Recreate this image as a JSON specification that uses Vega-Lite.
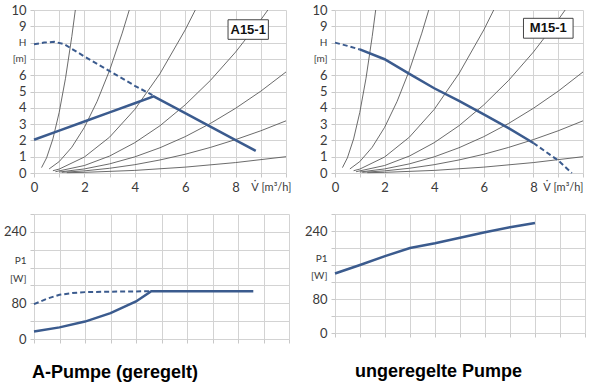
{
  "$schema": "https://vega.github.io/schema/vega-lite/v6.json",
  "background": "white",
  "padding": {"left": 3, "top": 4, "right": 2, "bottom": 2},
  "config": {
    "view": {"stroke": null},
    "axis": {
      "gridColor": "#d3d3d3",
      "tickColor": "#c8c8c8",
      "domain": false,
      "labelFont": "Lato",
      "labelFontSize": 13,
      "labelColor": "#3a3a3a",
      "tickSize": 4,
      "labelPadding": 4,
      "labelOverlap": false,
      "labelBound": false,
      "labelFlush": false
    }
  },
  "datasets": {
    "sys": [
      {"c": 1, "x": 0.3, "y": 0.33}, {"c": 1, "x": 0.5, "y": 0.93}, {"c": 1, "x": 0.75, "y": 2.09}, {"c": 1, "x": 1.0, "y": 3.72}, {"c": 1, "x": 1.25, "y": 5.81}, {"c": 1, "x": 1.5, "y": 8.37}, {"c": 1, "x": 1.64, "y": 10},
      {"c": 2, "x": 0.6, "y": 0.25}, {"c": 2, "x": 1.0, "y": 0.7}, {"c": 2, "x": 1.5, "y": 1.58}, {"c": 2, "x": 2.0, "y": 2.8}, {"c": 2, "x": 2.5, "y": 4.38}, {"c": 2, "x": 3.0, "y": 6.3}, {"c": 2, "x": 3.5, "y": 8.58}, {"c": 2, "x": 3.78, "y": 10},
      {"c": 3, "x": 0.75, "y": 0.14}, {"c": 3, "x": 1, "y": 0.24}, {"c": 3, "x": 2, "y": 0.98}, {"c": 3, "x": 3, "y": 2.2}, {"c": 3, "x": 4, "y": 3.9}, {"c": 3, "x": 5, "y": 6.1}, {"c": 3, "x": 6, "y": 8.78}, {"c": 3, "x": 6.4, "y": 10},
      {"c": 4, "x": 0.85, "y": 0.08}, {"c": 4, "x": 2, "y": 0.46}, {"c": 4, "x": 3, "y": 1.04}, {"c": 4, "x": 4, "y": 1.86}, {"c": 4, "x": 5, "y": 2.9}, {"c": 4, "x": 6, "y": 4.18}, {"c": 4, "x": 7, "y": 5.68}, {"c": 4, "x": 8, "y": 7.42}, {"c": 4, "x": 9, "y": 9.4}, {"c": 4, "x": 9.28, "y": 10},
      {"c": 5, "x": 1.0, "y": 0.06}, {"c": 5, "x": 2, "y": 0.25}, {"c": 5, "x": 3, "y": 0.56}, {"c": 5, "x": 4, "y": 0.99}, {"c": 5, "x": 5, "y": 1.55}, {"c": 5, "x": 6, "y": 2.23}, {"c": 5, "x": 7, "y": 3.04}, {"c": 5, "x": 8, "y": 3.97}, {"c": 5, "x": 9, "y": 5.02}, {"c": 5, "x": 10, "y": 6.2},
      {"c": 6, "x": 1.1, "y": 0.04}, {"c": 6, "x": 2, "y": 0.13}, {"c": 6, "x": 3, "y": 0.29}, {"c": 6, "x": 4, "y": 0.51}, {"c": 6, "x": 5, "y": 0.8}, {"c": 6, "x": 6, "y": 1.15}, {"c": 6, "x": 7, "y": 1.57}, {"c": 6, "x": 8, "y": 2.05}, {"c": 6, "x": 9, "y": 2.59}, {"c": 6, "x": 10, "y": 3.2},
      {"c": 7, "x": 1.3, "y": 0.02}, {"c": 7, "x": 2, "y": 0.04}, {"c": 7, "x": 4, "y": 0.16}, {"c": 7, "x": 6, "y": 0.36}, {"c": 7, "x": 8, "y": 0.64}, {"c": 7, "x": 10, "y": 1.0}
    ],
    "tl": [
      {"seg": "a", "style": "solid", "x": 0, "y": 2.04}, {"seg": "a", "style": "solid", "x": 1, "y": 2.6}, {"seg": "a", "style": "solid", "x": 2, "y": 3.16}, {"seg": "a", "style": "solid", "x": 3, "y": 3.72}, {"seg": "a", "style": "solid", "x": 4, "y": 4.28}, {"seg": "a", "style": "solid", "x": 4.75, "y": 4.7}, {"seg": "a", "style": "solid", "x": 6, "y": 3.67}, {"seg": "a", "style": "solid", "x": 7, "y": 2.84}, {"seg": "a", "style": "solid", "x": 8, "y": 2.02}, {"seg": "a", "style": "solid", "x": 8.8, "y": 1.36},
      {"seg": "b", "style": "dashed", "x": 0, "y": 7.9}, {"seg": "b", "style": "dashed", "x": 0.4, "y": 8.0}, {"seg": "b", "style": "dashed", "x": 0.8, "y": 8.05}, {"seg": "b", "style": "dashed", "x": 1.2, "y": 7.9}, {"seg": "b", "style": "dashed", "x": 2, "y": 7.15}, {"seg": "b", "style": "dashed", "x": 3, "y": 6.25}, {"seg": "b", "style": "dashed", "x": 4, "y": 5.35}, {"seg": "b", "style": "dashed", "x": 4.7, "y": 4.78}
    ],
    "tr": [
      {"seg": "a", "style": "dashed", "x": 0, "y": 8.0}, {"seg": "a", "style": "dashed", "x": 0.5, "y": 7.8}, {"seg": "a", "style": "dashed", "x": 1, "y": 7.58},
      {"seg": "b", "style": "solid", "x": 1, "y": 7.58}, {"seg": "b", "style": "solid", "x": 2, "y": 6.98}, {"seg": "b", "style": "solid", "x": 3, "y": 6.08}, {"seg": "b", "style": "solid", "x": 4, "y": 5.2}, {"seg": "b", "style": "solid", "x": 5, "y": 4.42}, {"seg": "b", "style": "solid", "x": 6, "y": 3.6}, {"seg": "b", "style": "solid", "x": 7, "y": 2.75}, {"seg": "b", "style": "solid", "x": 8, "y": 1.84},
      {"seg": "c", "style": "dashed", "x": 8, "y": 1.84}, {"seg": "c", "style": "dashed", "x": 9, "y": 0.77}, {"seg": "c", "style": "dashed", "x": 9.55, "y": 0}
    ],
    "bl": [
      {"seg": "a", "style": "solid", "x": 0, "y": 17}, {"seg": "a", "style": "solid", "x": 1, "y": 26}, {"seg": "a", "style": "solid", "x": 2, "y": 39}, {"seg": "a", "style": "solid", "x": 3, "y": 58}, {"seg": "a", "style": "solid", "x": 4, "y": 84}, {"seg": "a", "style": "solid", "x": 4.6, "y": 107}, {"seg": "a", "style": "solid", "x": 6, "y": 107}, {"seg": "a", "style": "solid", "x": 8, "y": 107}, {"seg": "a", "style": "solid", "x": 8.6, "y": 107},
      {"seg": "b", "style": "dashed", "x": 0, "y": 78}, {"seg": "b", "style": "dashed", "x": 0.5, "y": 90}, {"seg": "b", "style": "dashed", "x": 1, "y": 99}, {"seg": "b", "style": "dashed", "x": 1.5, "y": 103}, {"seg": "b", "style": "dashed", "x": 2, "y": 105}, {"seg": "b", "style": "dashed", "x": 3, "y": 106}, {"seg": "b", "style": "dashed", "x": 4.6, "y": 107}
    ],
    "br": [
      {"seg": "a", "style": "solid", "x": 0, "y": 140}, {"seg": "a", "style": "solid", "x": 1, "y": 160}, {"seg": "a", "style": "solid", "x": 2, "y": 181}, {"seg": "a", "style": "solid", "x": 3, "y": 200}, {"seg": "a", "style": "solid", "x": 4, "y": 211}, {"seg": "a", "style": "solid", "x": 5, "y": 224}, {"seg": "a", "style": "solid", "x": 6, "y": 237}, {"seg": "a", "style": "solid", "x": 7, "y": 249}, {"seg": "a", "style": "solid", "x": 8, "y": 259}
    ],
    "boxes": [
      {"label": "A15-1", "x": 7.7, "x2": 9.3, "y": 8.2, "y2": 9.4},
      {"label": "M15-1", "x": 7.6, "x2": 9.6, "y": 8.27, "y2": 9.49}
    ],
    "boxtext": [
      {"label": "A15-1", "x": 8.5, "y": 8.8},
      {"label": "M15-1", "x": 8.6, "y": 8.88}
    ]
  },
  "columns": 2,
  "spacing": {"row": 14, "column": 13},
  "concat": [
    {
      "width": 252,
      "height": 163,
      "encoding": {
        "x": {"field": "x", "type": "quantitative", "title": null, "scale": {"domain": [0, 10], "nice": false},
          "axis": {"values": [0, 1, 2, 3, 4, 5, 6, 7, 8, 9, 10], "grid": true,
            "labelExpr": "datum.value == 10 ? 'V\u0307 [m³/h]' : (datum.value % 2 == 0 ? datum.label : '')",
            "labelAlign": {"condition": {"test": "datum.value == 10", "value": "right"}, "value": "center"},
            "labelFontSize": {"condition": {"test": "datum.value == 10", "value": 11}, "value": 13},
            "labelOffset": {"condition": {"test": "datum.value == 10", "value": 5}, "value": 0}}},
        "y": {"field": "y", "type": "quantitative", "title": null, "scale": {"domain": [0, 10], "nice": false},
          "axis": {"values": [0, 1, 2, 3, 4, 5, 6, 7, 8, 9, 10], "grid": true,
            "labelExpr": "datum.value == 8 ? 'H' : datum.value == 7 ? '[m]' : datum.label",
            "labelFontSize": {"condition": {"test": "datum.value == 8 || datum.value == 7", "value": 10}, "value": 13}}}
      },
      "layer": [
        {"data": {"name": "sys"}, "mark": {"type": "line", "color": "#5a5a5a", "strokeWidth": 0.9}, "encoding": {"detail": {"field": "c"}}},
        {"data": {"name": "tl"}, "transform": [{"filter": "datum.style == 'dashed'"}], "mark": {"type": "line", "color": "#3b5b8e", "strokeWidth": 2, "strokeDash": [5, 3]}, "encoding": {"detail": {"field": "seg"}}},
        {"data": {"name": "tl"}, "transform": [{"filter": "datum.style == 'solid'"}], "mark": {"type": "line", "color": "#3b5b8e", "strokeWidth": 2.5}, "encoding": {"detail": {"field": "seg"}}},
        {"data": {"name": "boxes"}, "transform": [{"filter": "datum.label == 'A15-1'"}], "mark": {"type": "rect", "fill": "white", "stroke": "#444444", "strokeWidth": 1}, "encoding": {"x2": {"field": "x2"}, "y2": {"field": "y2"}}},
        {"data": {"name": "boxtext"}, "transform": [{"filter": "datum.label == 'A15-1'"}], "mark": {"type": "text", "font": "Liberation Sans", "fontWeight": "bold", "fontSize": 13, "color": "#111111"}, "encoding": {"text": {"field": "label"}}}
      ]
    },
    {
      "width": 248,
      "height": 163,
      "encoding": {
        "x": {"field": "x", "type": "quantitative", "title": null, "scale": {"domain": [0, 10], "nice": false},
          "axis": {"values": [0, 1, 2, 3, 4, 5, 6, 7, 8, 9, 10], "grid": true,
            "labelExpr": "datum.value == 10 ? 'V\u0307 [m³/h]' : (datum.value % 2 == 0 ? datum.label : '')",
            "labelAlign": {"condition": {"test": "datum.value == 10", "value": "right"}, "value": "center"},
            "labelFontSize": {"condition": {"test": "datum.value == 10", "value": 11}, "value": 13},
            "labelOffset": {"condition": {"test": "datum.value == 10", "value": 0}, "value": 0}}},
        "y": {"field": "y", "type": "quantitative", "title": null, "scale": {"domain": [0, 10], "nice": false},
          "axis": {"values": [0, 1, 2, 3, 4, 5, 6, 7, 8, 9, 10], "grid": true,
            "labelExpr": "datum.value == 8 ? 'H' : datum.value == 7 ? '[m]' : datum.label",
            "labelFontSize": {"condition": {"test": "datum.value == 8 || datum.value == 7", "value": 10}, "value": 13}}}
      },
      "layer": [
        {"data": {"name": "sys"}, "mark": {"type": "line", "color": "#5a5a5a", "strokeWidth": 0.9}, "encoding": {"detail": {"field": "c"}}},
        {"data": {"name": "tr"}, "transform": [{"filter": "datum.style == 'dashed'"}], "mark": {"type": "line", "color": "#3b5b8e", "strokeWidth": 2, "strokeDash": [5, 3]}, "encoding": {"detail": {"field": "seg"}}},
        {"data": {"name": "tr"}, "transform": [{"filter": "datum.style == 'solid'"}], "mark": {"type": "line", "color": "#3b5b8e", "strokeWidth": 2.5}, "encoding": {"detail": {"field": "seg"}}},
        {"data": {"name": "boxes"}, "transform": [{"filter": "datum.label == 'M15-1'"}], "mark": {"type": "rect", "fill": "white", "stroke": "#444444", "strokeWidth": 1}, "encoding": {"x2": {"field": "x2"}, "y2": {"field": "y2"}}},
        {"data": {"name": "boxtext"}, "transform": [{"filter": "datum.label == 'M15-1'"}], "mark": {"type": "text", "font": "Liberation Sans", "fontWeight": "bold", "fontSize": 13, "color": "#111111"}, "encoding": {"text": {"field": "label"}}}
      ]
    },
    {
      "width": 255,
      "height": 125,
      "title": {"text": "A-Pumpe (geregelt)", "orient": "bottom", "anchor": "start", "frame": "group", "font": "Liberation Sans", "fontWeight": "bold", "fontSize": 18, "color": "#000000", "offset": 18, "dx": -2},
      "encoding": {
        "x": {"field": "x", "type": "quantitative", "title": null, "scale": {"domain": [0, 10], "nice": false},
          "axis": {"values": [0, 1, 2, 3, 4, 5, 6, 7, 8, 9, 10], "grid": true, "labels": false}},
        "y": {"field": "y", "type": "quantitative", "title": null, "scale": {"domain": [0, 280], "nice": false},
          "axis": {"values": [0, 40, 80, 120, 160, 200, 240, 280], "grid": true,
            "labelExpr": "datum.value == 160 ? 'P1' : datum.value == 120 ? '[W]' : (datum.value == 0 || datum.value == 80 || datum.value == 240) ? datum.label : ''",
            "labelFontSize": {"condition": {"test": "datum.value == 160 || datum.value == 120", "value": 10}, "value": 13},
            "labelOffset": {"condition": {"test": "datum.value == 160 || datum.value == 120", "value": -7}, "value": 0}}}
      },
      "layer": [
        {"data": {"name": "bl"}, "transform": [{"filter": "datum.style == 'dashed'"}], "mark": {"type": "line", "color": "#3b5b8e", "strokeWidth": 2, "strokeDash": [5, 3]}, "encoding": {"detail": {"field": "seg"}}},
        {"data": {"name": "bl"}, "transform": [{"filter": "datum.style == 'solid'"}], "mark": {"type": "line", "color": "#3b5b8e", "strokeWidth": 2.5}, "encoding": {"detail": {"field": "seg"}}}
      ]
    },
    {
      "width": 250,
      "height": 119,
      "title": {"text": "ungeregelte Pumpe", "orient": "bottom", "anchor": "start", "frame": "group", "font": "Liberation Sans", "fontWeight": "bold", "fontSize": 18, "color": "#000000", "offset": 23, "dx": 20},
      "encoding": {
        "x": {"field": "x", "type": "quantitative", "title": null, "scale": {"domain": [0, 10], "nice": false},
          "axis": {"values": [0, 1, 2, 3, 4, 5, 6, 7, 8, 9, 10], "grid": true, "labels": false}},
        "y": {"field": "y", "type": "quantitative", "title": null, "scale": {"domain": [0, 280], "nice": false},
          "axis": {"values": [0, 40, 80, 120, 160, 200, 240, 280], "grid": true,
            "labelExpr": "datum.value == 160 ? 'P1' : datum.value == 120 ? '[W]' : (datum.value == 0 || datum.value == 80 || datum.value == 240) ? datum.label : ''",
            "labelFontSize": {"condition": {"test": "datum.value == 160 || datum.value == 120", "value": 10}, "value": 13},
            "labelOffset": {"condition": {"test": "datum.value == 160 || datum.value == 120", "value": -7}, "value": 0}}}
      },
      "layer": [
        {"data": {"name": "br"}, "mark": {"type": "line", "color": "#3b5b8e", "strokeWidth": 2.5}, "encoding": {"detail": {"field": "seg"}}}
      ]
    }
  ]
}
